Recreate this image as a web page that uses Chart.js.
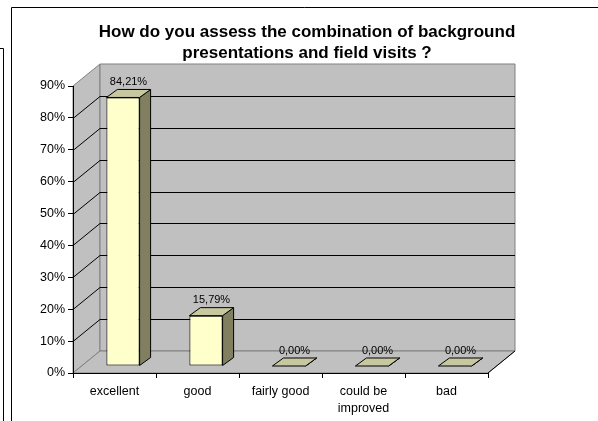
<!DOCTYPE html>
<html>
<head>
<meta charset="utf-8">
<script src="https://cdn.jsdelivr.net/npm/chart.js"></script>
<style>
  html, body { margin: 0; padding: 0; background: #fff; }
  #chart { display: block; }
</style>
</head>
<body>
<canvas id="chart" width="598" height="421"></canvas>
<script>
// survey answers and their share of respondents (%)
const categories = ['excellent', 'good', 'fairly good', ['could be', 'improved'], 'bad'];
const shares = [84.21, 15.79, 0, 0, 0];
const yMax = 90;
const yStep = 10;
const titleLines = ['How do you assess the combination of background', 'presentations and field visits ?'];

const FONT = "'Liberation Sans', Arial, sans-serif";

// fake 3d: offset of the back wall, of the bar front and depth of each bar
const wallDepth = { x: 27, y: -22 };
const barShift = { x: 8.5, y: -7 };
const barDepth = { x: 11, y: -8 };

function poly(ctx, pts, fill, stroke) {
  ctx.beginPath();
  ctx.moveTo(pts[0][0], pts[0][1]);
  for (let i = 1; i < pts.length; i++) ctx.lineTo(pts[i][0], pts[i][1]);
  ctx.closePath();
  if (fill) { ctx.fillStyle = fill; ctx.fill(); }
  if (stroke) { ctx.strokeStyle = stroke; ctx.lineWidth = 1; ctx.stroke(); }
}

function line(ctx, x1, y1, x2, y2, color) {
  ctx.beginPath();
  ctx.moveTo(x1, y1);
  ctx.lineTo(x2, y2);
  ctx.strokeStyle = color;
  ctx.lineWidth = 1;
  ctx.stroke();
}

const box3d = {
  id: 'box3d',
  beforeDraw(chart) {
    const ctx = chart.ctx;
    const a = chart.chartArea;
    const ys = chart.scales.y;
    const dx = wallDepth.x, dy = wallDepth.y;
    ctx.save();

    // frame lines around the sheet
    line(ctx, 11.5, 7.5, chart.width, 7.5, '#000');
    line(ctx, 11.5, 7.5, 11.5, chart.height, '#000');
    line(ctx, 0, 48.5, 3.5, 48.5, '#000');
    line(ctx, 3.5, 48.5, 3.5, chart.height, '#000');

    // title
    ctx.fillStyle = '#000';
    ctx.font = 'bold 17px ' + FONT;
    ctx.textAlign = 'center';
    ctx.textBaseline = 'middle';
    titleLines.forEach((t, i) => ctx.fillText(t, 307, 32 + i * 21));

    // walls and floor
    const wall = '#c0c0c0', edge = '#808080';
    poly(ctx, [[a.left, a.bottom], [a.left, a.top], [a.left + dx, a.top + dy], [a.left + dx, a.bottom + dy]], wall, edge);
    poly(ctx, [[a.left + dx, a.top + dy], [a.right + dx, a.top + dy], [a.right + dx, a.bottom + dy], [a.left + dx, a.bottom + dy]], wall, edge);
    poly(ctx, [[a.left, a.bottom], [a.left + dx, a.bottom + dy], [a.right + dx, a.bottom + dy], [a.right, a.bottom]], wall, edge);
    line(ctx, a.right, a.bottom, a.right + dx, a.bottom + dy, '#000');

    // gridlines across side and back wall
    for (let v = yStep; v < yMax; v += yStep) {
      const y = Math.round(ys.getPixelForValue(v)) + 0.5;
      ctx.beginPath();
      ctx.moveTo(a.left, y);
      ctx.lineTo(a.left + dx, y + dy);
      ctx.lineTo(a.right + dx, y + dy);
      ctx.strokeStyle = '#000';
      ctx.lineWidth = 1;
      ctx.stroke();
    }
    ctx.restore();
  },
  beforeDatasetsDraw(chart) {
    chart.ctx.save();
    chart.ctx.translate(barShift.x, barShift.y);
  },
  afterDatasetsDraw(chart) {
    const ctx = chart.ctx;
    const bars = chart.getDatasetMeta(0).data;
    const bx = barDepth.x, by = barDepth.y;
    bars.forEach(el => {
      const p = el.getProps(['x', 'y', 'base', 'width'], true);
      const l = p.x - p.width / 2, r = p.x + p.width / 2;
      const top = Math.min(p.y, p.base), bot = Math.max(p.y, p.base);
      poly(ctx, [[r, top], [r + bx, top + by], [r + bx, bot + by], [r, bot]], '#808060', '#000');
      poly(ctx, [[l, top], [l + bx, top + by], [r + bx, top + by], [r, top]], '#c8c8a0', '#000');
    });
    ctx.restore();

    // value labels above the bars
    ctx.save();
    ctx.fillStyle = '#000';
    ctx.font = '11px ' + FONT;
    ctx.textAlign = 'center';
    ctx.textBaseline = 'bottom';
    bars.forEach((el, i) => {
      const p = el.getProps(['x', 'y'], true);
      const txt = shares[i].toFixed(2).replace('.', ',') + '%';
      ctx.fillText(txt, p.x + barShift.x + bx / 2, p.y + barShift.y + by - 2);
    });
    ctx.restore();
  }
};

new Chart(document.getElementById('chart'), {
  type: 'bar',
  data: {
    labels: categories,
    datasets: [{
      data: shares,
      backgroundColor: '#ffffcc',
      borderColor: '#000',
      borderWidth: 1,
      borderSkipped: false,
      barPercentage: 0.4,
      categoryPercentage: 1,
      clip: false
    }]
  },
  options: {
    responsive: false,
    animation: false,
    layout: { padding: { top: 86, right: 110, left: 0, bottom: 0 } },
    plugins: {
      legend: { display: false },
      title: { display: false },
      tooltip: { enabled: false }
    },
    scales: {
      x: {
        ticks: { color: '#000', font: { family: FONT, size: 12.5, lineHeight: 1.35 }, padding: 5 },
        grid: { drawOnChartArea: false, color: '#000', tickLength: 5, offset: true },
        border: { color: '#000' },
        afterFit(s) { s.height = 48; }
      },
      y: {
        min: 0,
        max: yMax,
        ticks: { stepSize: yStep, color: '#000', font: { family: FONT, size: 12.5 }, padding: 3, callback: v => v + '%' },
        grid: { drawOnChartArea: false, color: '#000', tickLength: 5 },
        border: { color: '#000' },
        afterFit(s) { s.width = 73; }
      }
    }
  },
  plugins: [box3d]
});
</script>
</body>
</html>
